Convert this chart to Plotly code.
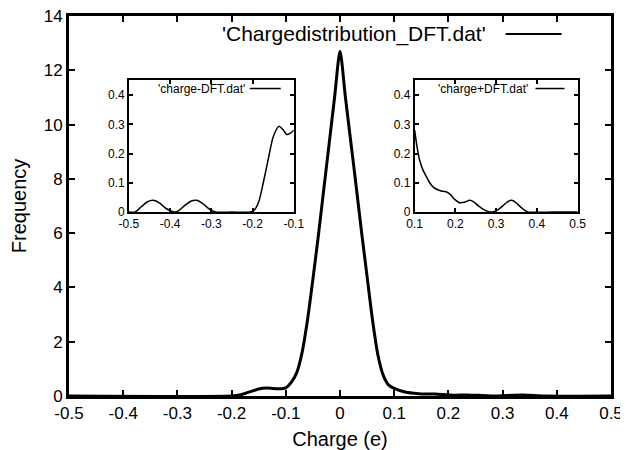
import plotly.graph_objects as go

# ---------------- data ----------------
main_x = [-0.5, -0.2, -0.185, -0.174, -0.162, -0.15, -0.136, -0.125, -0.117, -0.108,
          -0.1, -0.09, -0.08, -0.07, -0.06, -0.05, -0.04, -0.03, -0.02, -0.01, 0.0,
          0.01, 0.02, 0.03, 0.04, 0.05, 0.06, 0.07, 0.08, 0.09, 0.1, 0.12, 0.145,
          0.175, 0.21, 0.235, 0.28, 0.338, 0.378, 0.5]
main_y = [0.0, 0.0, 0.035, 0.1, 0.18, 0.257, 0.293, 0.28, 0.265, 0.27,
          0.3, 0.5, 0.85, 1.6, 2.8, 4.3, 5.9, 7.6, 9.3, 11.0, 12.7,
          11.0, 9.35, 7.7, 6.0, 4.4, 2.8, 1.5, 0.75, 0.4, 0.28, 0.145, 0.086,
          0.07, 0.032, 0.04, 0.002, 0.04, 0.0, 0.0]

neg_x = [-0.5, -0.485, -0.47, -0.455, -0.441, -0.425, -0.41, -0.395, -0.388, -0.38,
         -0.365, -0.35, -0.336, -0.32, -0.305, -0.29, -0.25, -0.205, -0.195, -0.185,
         -0.174, -0.162, -0.15, -0.136, -0.125, -0.117, -0.108, -0.1]
neg_y = [0.0, 0.0, 0.018, 0.035, 0.04, 0.03, 0.012, 0.002, 0.0, 0.004,
         0.022, 0.037, 0.04, 0.028, 0.01, 0.0, 0.0, 0.0, 0.008, 0.035,
         0.1, 0.18, 0.257, 0.293, 0.28, 0.265, 0.27, 0.28]

pos_x = [0.1, 0.105, 0.112, 0.12, 0.129, 0.137, 0.145, 0.155, 0.165, 0.175,
         0.186, 0.197, 0.21, 0.222, 0.235, 0.245, 0.255, 0.268, 0.28, 0.292,
         0.305, 0.317, 0.328, 0.338, 0.348, 0.358, 0.368, 0.378, 0.44, 0.5]
pos_y = [0.28, 0.23, 0.178, 0.145, 0.12, 0.1, 0.086, 0.077, 0.072, 0.07,
         0.062, 0.045, 0.032, 0.033, 0.04, 0.035, 0.023, 0.01, 0.002, 0.0,
         0.008, 0.022, 0.035, 0.04, 0.033, 0.02, 0.008, 0.0, 0.0, 0.0]

main_label = "'Chargedistribution_DFT.dat'"
neg_label = "'charge-DFT.dat'"
pos_label = "'charge+DFT.dat'"

main_xticks = [-0.5, -0.4, -0.3, -0.2, -0.1, 0.0, 0.1, 0.2, 0.3, 0.4, 0.5]
main_xtext = ["-0.5", "-0.4", "-0.3", "-0.2", "-0.1", "0", "0.1", "0.2", "0.3", "0.4", "0.5"]
main_yticks = [0, 2, 4, 6, 8, 10, 12, 14]
neg_xticks = [-0.5, -0.4, -0.3, -0.2, -0.1]
neg_xtext = ["-0.5", "-0.4", "-0.3", "-0.2", "-0.1"]
pos_xticks = [0.1, 0.2, 0.3, 0.4, 0.5]
pos_xtext = ["0.1", "0.2", "0.3", "0.4", "0.5"]
ins_yticks = [0, 0.1, 0.2, 0.3, 0.4]
ins_ytext = ["0", "0.1", "0.2", "0.3", "0.4"]

FONT = "Liberation Sans, Arial, Helvetica, sans-serif"

fig = go.Figure()
fig.add_trace(go.Scatter(x=main_x, y=main_y, mode="lines", name=main_label,
                         line=dict(color="black", width=3, shape="spline", smoothing=0.7),
                         xaxis="x", yaxis="y", showlegend=False))
fig.add_trace(go.Scatter(x=neg_x, y=neg_y, mode="lines", name=neg_label,
                         line=dict(color="black", width=1.5, shape="spline", smoothing=0.7),
                         xaxis="x2", yaxis="y2", showlegend=False))
fig.add_trace(go.Scatter(x=pos_x, y=pos_y, mode="lines", name=pos_label,
                         line=dict(color="black", width=1.5, shape="spline", smoothing=0.7),
                         xaxis="x3", yaxis="y3", showlegend=False))

main_ax = dict(showline=True, linewidth=3, linecolor="black", mirror="allticks",
               ticks="inside", ticklen=6, tickwidth=2, tickcolor="black",
               showgrid=False, zeroline=False, automargin=False,
               ticklabeloverflow="allow",
               tickfont=dict(family=FONT, size=17, color="black"))
ins_ax = dict(showline=True, linewidth=1.8, linecolor="black", mirror="allticks",
              ticks="inside", ticklen=4, tickwidth=1.5, tickcolor="black",
              showgrid=False, zeroline=False, automargin=False,
              ticklabeloverflow="allow",
              tickfont=dict(family=FONT, size=12, color="black"))

ins_y_dom = [0.4842, 0.8303]

# page body has an 8px default margin, so the figure is 8px smaller each way
fig.update_layout(
    width=620, height=442,
    margin=dict(l=61, r=16.5, t=8, b=54, autoexpand=False),
    paper_bgcolor="white", plot_bgcolor="white",
    showlegend=False,
    xaxis=dict(range=[-0.5, 0.5], tickvals=main_xticks, ticktext=main_xtext,
               title=dict(text="Charge (e)", font=dict(family=FONT, size=20, color="black"), standoff=10),
               domain=[0, 1], **main_ax),
    yaxis=dict(range=[0, 14], tickvals=main_yticks,
               title=dict(text="Frequency", font=dict(family=FONT, size=20, color="black"), standoff=13),
               domain=[0, 1], **main_ax),
    xaxis2=dict(range=[-0.5, -0.1], tickvals=neg_xticks, ticktext=neg_xtext,
                domain=[0.1106, 0.4147], anchor="y2", **ins_ax),
    yaxis2=dict(range=[0, 0.45], tickvals=ins_yticks, ticktext=ins_ytext,
                domain=ins_y_dom, anchor="x2", **ins_ax),
    xaxis3=dict(range=[0.1, 0.5], tickvals=pos_xticks, ticktext=pos_xtext,
                domain=[0.6378, 0.9382], anchor="y3", **ins_ax),
    yaxis3=dict(range=[0, 0.45], tickvals=ins_yticks, ticktext=ins_ytext,
                domain=ins_y_dom, anchor="x3", **ins_ax),
)

# gnuplot-style keys: text right-aligned, sample line to its right
keys = [
    ("x domain", "y domain", main_label, 0.7724, 0.9526, 0.8055, 0.9088, 21, 2),
    ("x2 domain", "y2 domain", neg_label, 0.715, 0.939, 0.733, 0.921, 12, 1.5),
    ("x3 domain", "y3 domain", pos_label, 0.7055, 0.939, 0.742, 0.92, 12, 1.5),
]
for xr, yr, txt, tx, ty, lx0, lx1, fs, lw in keys:
    fig.add_annotation(xref=xr, yref=yr, x=tx, y=ty, text=txt, showarrow=False,
                       xanchor="right", yanchor="middle",
                       font=dict(family=FONT, size=fs, color="black"))
    fig.add_shape(type="line", xref=xr, yref=yr, x0=lx0, x1=lx1, y0=ty, y1=ty,
                  line=dict(color="black", width=lw))

fig.write_html("out.html")
